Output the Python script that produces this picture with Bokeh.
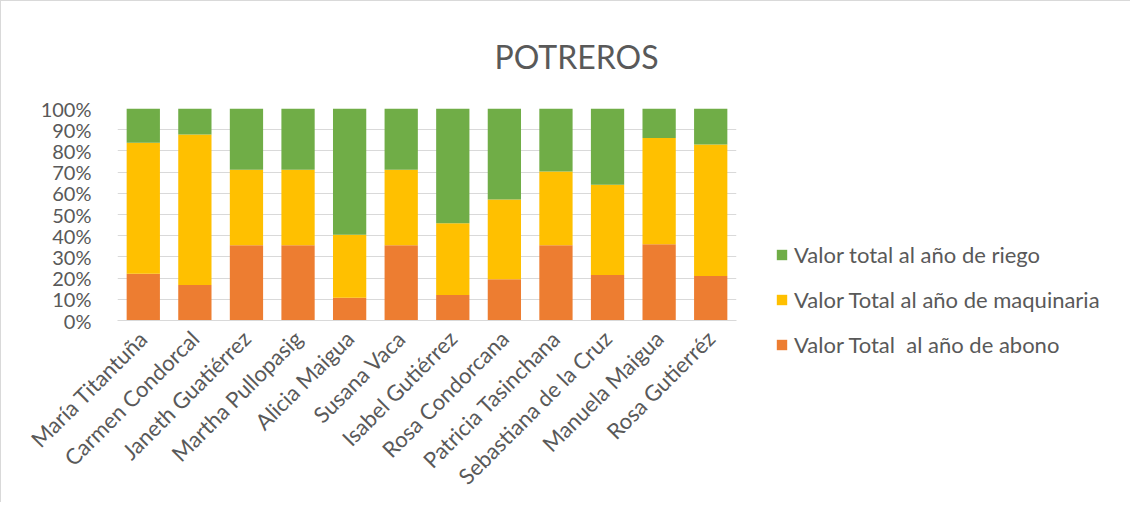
from bokeh.plotting import figure
from bokeh.models import Legend, LegendItem, Title, NumeralTickFormatter, FixedTicker, Range1d
from bokeh.embed import file_html
from bokeh.resources import INLINE
import math

names = ["María Titantuña", "Carmen Condorcal", "Janeth Guatiérrez", "Martha Pullopasig",
         "Alicia Maigua", "Susana Vaca", "Isabel Gutiérrez", "Rosa Condorcana",
         "Patricia Tasinchana", "Sebastiana de la Cruz", "Manuela Maigua", "Rosa Gutierréz"]
abono = [22.1, 16.7, 35.5, 35.5, 10.7, 35.5, 12.0, 19.4, 35.5, 21.5, 36.0, 21.0]
maquinaria = [61.8, 71.0, 35.6, 35.6, 29.8, 35.6, 33.9, 37.7, 34.8, 42.5, 50.1, 62.0]
riego = [16.1, 12.3, 28.9, 28.9, 59.5, 28.9, 54.1, 42.9, 29.7, 36.0, 13.9, 17.0]
series_labels = ["Valor Total  al año de abono", "Valor Total al año de maquinaria",
                 "Valor total al año de riego"]
colors = ["#ED7D31", "#FFC000", "#70AD47"]

totals = [a + m + r for a, m, r in zip(abono, maquinaria, riego)]
data = dict(
    names=names,
    abono=[a / t for a, t in zip(abono, totals)],
    maquinaria=[m / t for m, t in zip(maquinaria, totals)],
    riego=[r / t for r, t in zip(riego, totals)],
)

FONT = "Lato"
GREY = "#595959"

p = figure(x_range=names, y_range=Range1d(0, 1), frame_width=619, frame_height=212,
           output_backend="svg", toolbar_location=None,
           min_border_left=116, min_border_right=0, min_border_top=107, min_border_bottom=170)
p.styles = {"border-left": "1px solid #d9d9d9", "border-top": "1px solid #d9d9d9"}

rs = p.vbar_stack(["abono", "maquinaria", "riego"], x="names", width=0.645, source=data,
                  color=colors, line_color=None)

p.outline_line_color = None
p.xgrid.grid_line_color = None
p.ygrid.grid_line_color = "#d9d9d9"
p.ygrid.grid_line_width = 1

p.yaxis.ticker = FixedTicker(ticks=[i / 10 for i in range(11)])
p.yaxis.formatter = NumeralTickFormatter(format="0%")
p.yaxis.axis_line_color = None
p.yaxis.major_tick_line_color = None
p.yaxis.minor_tick_line_color = None
p.yaxis.major_label_text_font = FONT
p.yaxis.major_label_text_font_size = "20px"
p.yaxis.major_label_text_color = GREY
p.yaxis.major_label_standoff = 20

p.xaxis.axis_line_color = "#d9d9d9"
p.xaxis.major_tick_line_color = None
p.xaxis.minor_tick_line_color = None
p.xaxis.major_label_orientation = math.pi / 4
p.xaxis.major_label_text_font = FONT
p.xaxis.major_label_text_font_size = "22px"
p.xaxis.major_label_text_color = GREY
p.xaxis.major_label_standoff = 8

title = Title(text="POTREROS", text_font=FONT, text_font_size="32px", text_color=GREY,
              text_font_style="normal", align="left", offset=377, standoff=66,
              text_line_height=0.8)
p.add_layout(title, "above")

items = [LegendItem(label=series_labels[i], renderers=[rs[i]]) for i in [2, 1, 0]]
legend = Legend(items=items, location=(39, -38), orientation="vertical",
                label_text_font=FONT, label_text_font_size="22px", label_text_color=GREY,
                glyph_width=13, glyph_height=13, label_height=20, spacing=18,
                padding=0, margin=0, border_line_color=None, background_fill_alpha=0,
                label_standoff=6)
p.add_layout(legend, "right")

open("out.html", "w").write(file_html(p, INLINE))
